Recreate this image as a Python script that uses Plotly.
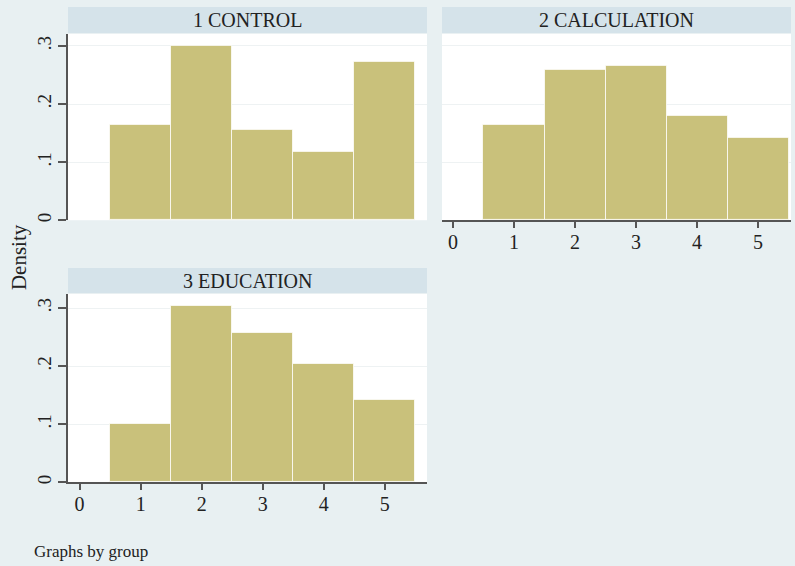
import plotly.graph_objects as go

# ---- data ----
categories = [1, 2, 3, 4, 5]
control = [0.164, 0.300, 0.155, 0.118, 0.273]
calculation = [0.164, 0.258, 0.265, 0.180, 0.141]
education = [0.101, 0.303, 0.257, 0.203, 0.141]
panel_titles = ["1 CONTROL", "2 CALCULATION", "3 EDUCATION"]
y_tickvals = [0, 0.1, 0.2, 0.3]
y_ticktext = ["0", ".1", ".2", ".3"]
x_tickvals = [0, 1, 2, 3, 4, 5]

W, H = 795, 566
BG = "#e8f0f2"
STRIP = "#d5e3ea"
BAR = "#c9c17b"
AXIS = "#555555"
GRID = "#eef2f3"
FONT = "Liberation Serif"

def px(x):
    return x / W

def py(y):
    return 1 - y / H

fig = go.Figure()
series = [control, calculation, education]
for i, vals in enumerate(series):
    sfx = "" if i == 0 else str(i + 1)
    fig.add_trace(go.Bar(
        x=categories, y=vals, width=1,
        marker=dict(color=BAR, line=dict(color="rgba(255,255,255,0.75)", width=1)),
        xaxis="x" + sfx, yaxis="y" + sfx, showlegend=False, hoverinfo="skip",
    ))

# panel geometry (pixels)
panels = [
    dict(x0=68, x1=427, y0=34, y1=221, xr=[-0.19, 5.69]),
    dict(x0=442, x1=791, y0=34, y1=221, xr=[-0.18, 5.54]),
    dict(x0=68, x1=427, y0=295, y1=484, xr=[-0.19, 5.69]),
]
strips = [(7, 33), (7, 33), (269, 294)]

xtickfont = dict(family=FONT, size=20, color="#222222")
ytickfont = dict(family=FONT, size=19, color="#222222")
layout = dict(
    width=W, height=H, paper_bgcolor=BG, plot_bgcolor="white",
    margin=dict(l=0, r=0, t=0, b=0), bargap=0,
    font=dict(family=FONT, color="#222222"),
)

show_x = [False, True, True]
show_y = [True, False, True]
for i, p in enumerate(panels):
    sfx = "" if i == 0 else str(i + 1)
    xa = dict(
        domain=[px(p["x0"]), px(p["x1"])], range=p["xr"], anchor="y" + sfx,
        showgrid=False, zeroline=False, fixedrange=True,
    )
    if show_x[i]:
        xa.update(showline=True, linecolor=AXIS, linewidth=1.5, ticks="outside",
                  ticklen=6, tickcolor=AXIS, tickwidth=1.5, tickvals=x_tickvals,
                  tickfont=xtickfont, showticklabels=True, ticklabelstandoff=-3)
    else:
        xa.update(showline=False, ticks="", showticklabels=False)
    ya = dict(
        domain=[py(p["y1"]), py(p["y0"])], range=[0, (p["y1"] - p["y0"]) / 583.0],
        anchor="x" + sfx, showgrid=True, gridcolor=GRID, gridwidth=1,
        tickvals=y_tickvals, zeroline=False, fixedrange=True,
    )
    if show_y[i]:
        ya.update(showline=True, linecolor=AXIS, linewidth=1.5, ticks="outside",
                  ticklen=8, tickcolor=AXIS, tickwidth=1.5, ticktext=y_ticktext,
                  tickfont=ytickfont, tickangle=-90, showticklabels=True,
                  ticklabelstandoff=0)
    else:
        ya.update(showline=False, ticks="", showticklabels=False)
    layout["xaxis" + sfx] = xa
    layout["yaxis" + sfx] = ya

fig.update_layout(**layout)

shapes = []
annotations = []
for i, p in enumerate(panels):
    s0, s1 = strips[i]
    shapes.append(dict(type="rect", xref="paper", yref="paper",
                       x0=px(p["x0"]), x1=px(p["x1"]), y0=py(s1), y1=py(s0),
                       fillcolor=STRIP, line=dict(width=0), layer="below"))
    annotations.append(dict(text=panel_titles[i], xref="paper", yref="paper",
                            x=px((p["x0"] + p["x1"]) / 2), y=py((s0 + s1) / 2),
                            xanchor="center", yanchor="middle", showarrow=False,
                            font=dict(family=FONT, size=20, color="#222222")))

annotations.append(dict(text="Density", xref="paper", yref="paper",
                        x=px(19), y=py(258), textangle=-90, xanchor="center",
                        yanchor="middle", showarrow=False,
                        font=dict(family=FONT, size=21, color="#222222")))
annotations.append(dict(text="Graphs by group", xref="paper", yref="paper",
                        x=px(32), y=py(553), xanchor="left", yanchor="middle",
                        showarrow=False,
                        font=dict(family=FONT, size=17, color="#222222")))

fig.update_layout(shapes=shapes, annotations=annotations)
fig.write_html("out.html", config={"displayModeBar": False})

# remove the browser's default page margin so the figure fills the window
with open("out.html", "r", encoding="utf-8") as f:
    html = f.read()
html = html.replace("<body>", '<body style="margin:0;padding:0;overflow:hidden">', 1)
with open("out.html", "w", encoding="utf-8") as f:
    f.write(html)
